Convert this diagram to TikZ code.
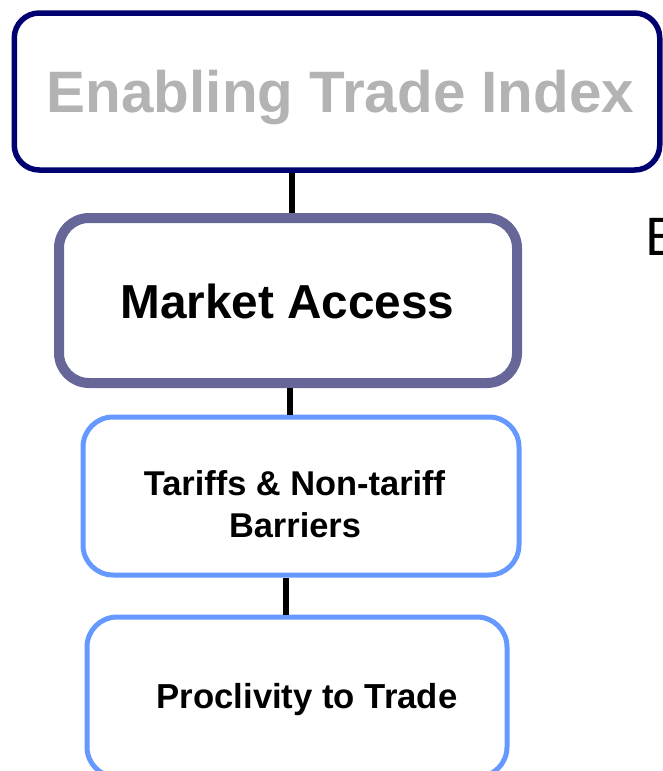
\documentclass[tikz,border=0pt]{standalone}
\usepackage{fontspec}
\setmainfont{Liberation Sans}
\definecolor{navyline}{HTML}{000070}
\definecolor{graytext}{HTML}{B3B3B3}
\definecolor{purpleline}{HTML}{666699}
\definecolor{blueline}{HTML}{6699FF}
\tikzset{
  box/.style={draw, fill=white, rectangle, inner sep=0pt},
  conn/.style={draw=black, line width=6pt},
  lbl/.style={anchor=base, inner sep=0pt, font=\bfseries},
}
\begin{document}
\begin{tikzpicture}[x=1pt,y=-1pt]
\useasboundingbox (0,0) rectangle (663,771);
\clip (0,0) rectangle (663,771);
% boxes
\node[box, draw=navyline, line width=5.5pt, rounded corners=25pt,
      minimum width=645.5pt, minimum height=157pt] (eti) at (337,91.5) {};
\node[box, draw=purpleline, line width=10pt, rounded corners=30pt,
      minimum width=458pt, minimum height=165pt] (ma) at (288,300.5) {};
\node[box, draw=blueline, line width=5pt, rounded corners=30pt,
      minimum width=436pt, minimum height=158pt] (tar) at (301,496) {};
\node[box, draw=blueline, line width=5pt, rounded corners=30pt,
      minimum width=420pt, minimum height=160pt] (pro) at (297,697) {};
% connectors
\draw[conn] ([xshift=-45.5pt]eti.south) -- ([xshift=3.5pt]ma.north);
\draw[conn] ([xshift=2pt]ma.south) -- ([xshift=-11pt]tar.north);
\draw[conn] ([xshift=-15pt]tar.south) -- ([xshift=-11pt]pro.north);
% texts
\node[lbl, text=graytext, font=\fontsize{58.4}{60}\selectfont\bfseries] (t1) at (340.5,112) {Enabling Trade Index};
\node[lbl, font=\fontsize{47.7}{50}\selectfont\bfseries] (t2) at (287.5,318) {Market Access};
\node[lbl, font=\fontsize{34.4}{36}\selectfont\bfseries] (t3a) at (294.5,495) {Tariffs \& Non-tariff};
\node[lbl, font=\fontsize{34.4}{36}\selectfont\bfseries] (t3b) at (295,537) {Barriers};
\node[lbl, font=\fontsize{34.7}{36}\selectfont\bfseries] (t4) at (307,708) {Proclivity to Trade};
\node[anchor=base west, inner sep=0pt, font=\fontsize{54}{56}\selectfont] (e) at (645.5,255) {E};
\end{tikzpicture}
\end{document}
